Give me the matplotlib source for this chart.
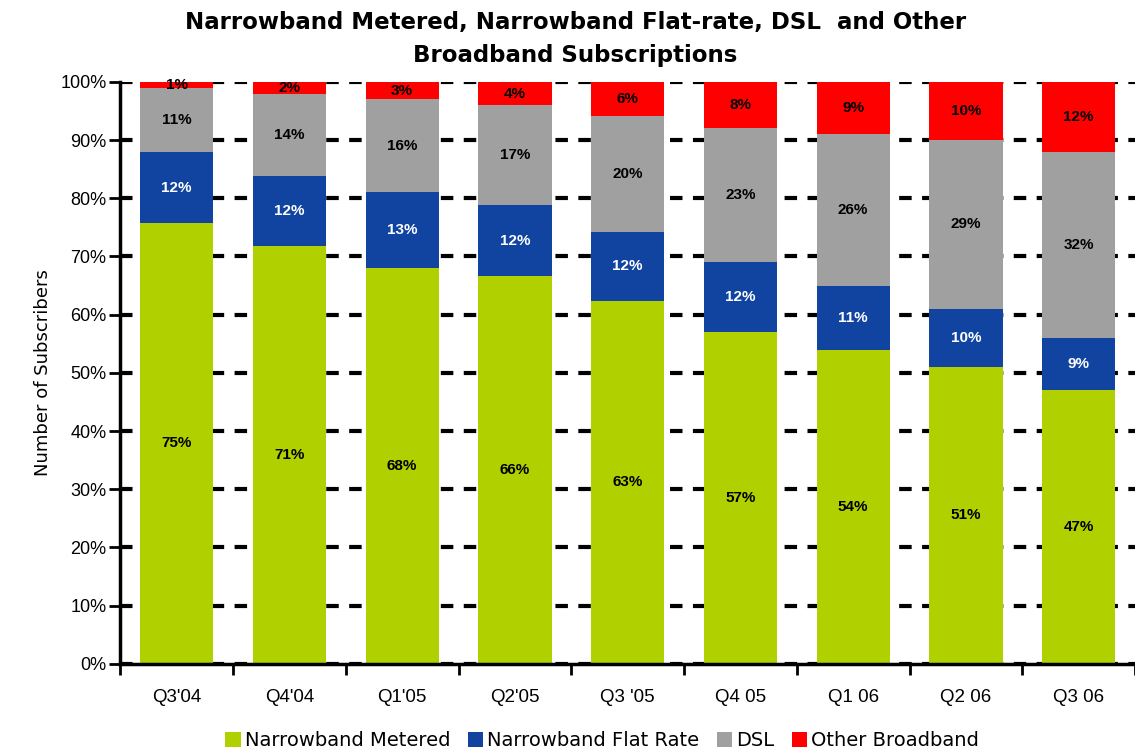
import numpy as np
import matplotlib
matplotlib.use("Agg")
import matplotlib.pyplot as plt
from matplotlib.ticker import FixedLocator, PercentFormatter

# quarters and shares (% of subscribers)
quarters = ["Q3'04", "Q4'04", "Q1'05", "Q2'05", "Q3 '05", "Q4 05", "Q1 06", "Q2 06", "Q3 06"]
nb_metered = [75, 71, 68, 66, 63, 57, 54, 51, 47]
nb_flat = [12, 12, 13, 12, 12, 12, 11, 10, 9]
dsl = [11, 14, 16, 17, 20, 23, 26, 29, 32]
other_bb = [1, 2, 3, 4, 6, 8, 9, 10, 12]

series = [
    ("Narrowband Metered", nb_metered, "#B0D000", "black"),
    ("Narrowband Flat Rate", nb_flat, "#1044A0", "white"),
    ("DSL", dsl, "#A0A0A0", "black"),
    ("Other Broadband", other_bb, "#FF0000", "black"),
]

plt.rcParams['font.family'] = ['Liberation Sans', 'DejaVu Sans']

fig = plt.figure(figsize=(11.35, 7.51), dpi=100)
ax = fig.add_axes([0.106, 0.116, 0.894, 0.775])

x = np.arange(len(quarters))
totals = np.sum([s[1] for s in series], axis=0)
bottom = np.zeros(len(quarters))
for name, vals, color, tcol in series:
    h = np.array(vals) / totals * 100  # columns normalised to 100%
    ax.bar(x, h, bottom=bottom, width=0.65, color=color, label=name, zorder=3)
    for xi, b, hi, v in zip(x, bottom, h, vals):
        ax.text(xi, b + hi / 2, f"{v}%", ha="center", va="center",
                fontsize=11, fontweight="bold", color=tcol, zorder=4)
    bottom += h

ax.set_xlim(-0.5, len(quarters) - 0.5)
ax.set_ylim(0, 100)
ax.set_yticks(np.arange(0, 101, 10))
ax.yaxis.set_major_formatter(PercentFormatter(decimals=0))
ax.set_xticks(x)
ax.set_xticklabels(quarters, fontsize=13.5)
ax.xaxis.set_minor_locator(FixedLocator(np.arange(-0.5, len(quarters), 1)))
ax.tick_params(axis="x", which="major", length=0, pad=18)
ax.tick_params(axis="x", which="minor", length=8, width=2, direction="out")
ax.tick_params(axis="y", length=8, width=2, labelsize=13, pad=2)

ax.yaxis.grid(True, color="black", linestyle=(0, (3, 2.5)), linewidth=3, zorder=0)
ax.set_axisbelow(True)
for s in ["top", "right"]:
    ax.spines[s].set_visible(False)
ax.spines["left"].set_linewidth(2.5)
ax.spines["bottom"].set_linewidth(2.5)
ax.spines["bottom"].set_zorder(5)

ax.set_ylabel("Number of Subscribers", fontsize=13, family="DejaVu Sans", labelpad=6)
fig.text(0.507, 0.985, "Narrowband Metered, Narrowband Flat-rate, DSL  and Other\nBroadband Subscriptions",
         ha="center", va="top", fontsize=16.5, fontweight="bold", family="DejaVu Sans",
         linespacing=1.55)

leg = ax.legend(loc="upper center", bbox_to_anchor=(0.475, -0.085), ncol=4, frameon=False,
                fontsize=14, handlelength=0.8, handleheight=0.8, handletextpad=0.2,
                columnspacing=0.9, prop={"family": "DejaVu Sans", "size": 14})

fig.savefig("out.png", dpi=100)
